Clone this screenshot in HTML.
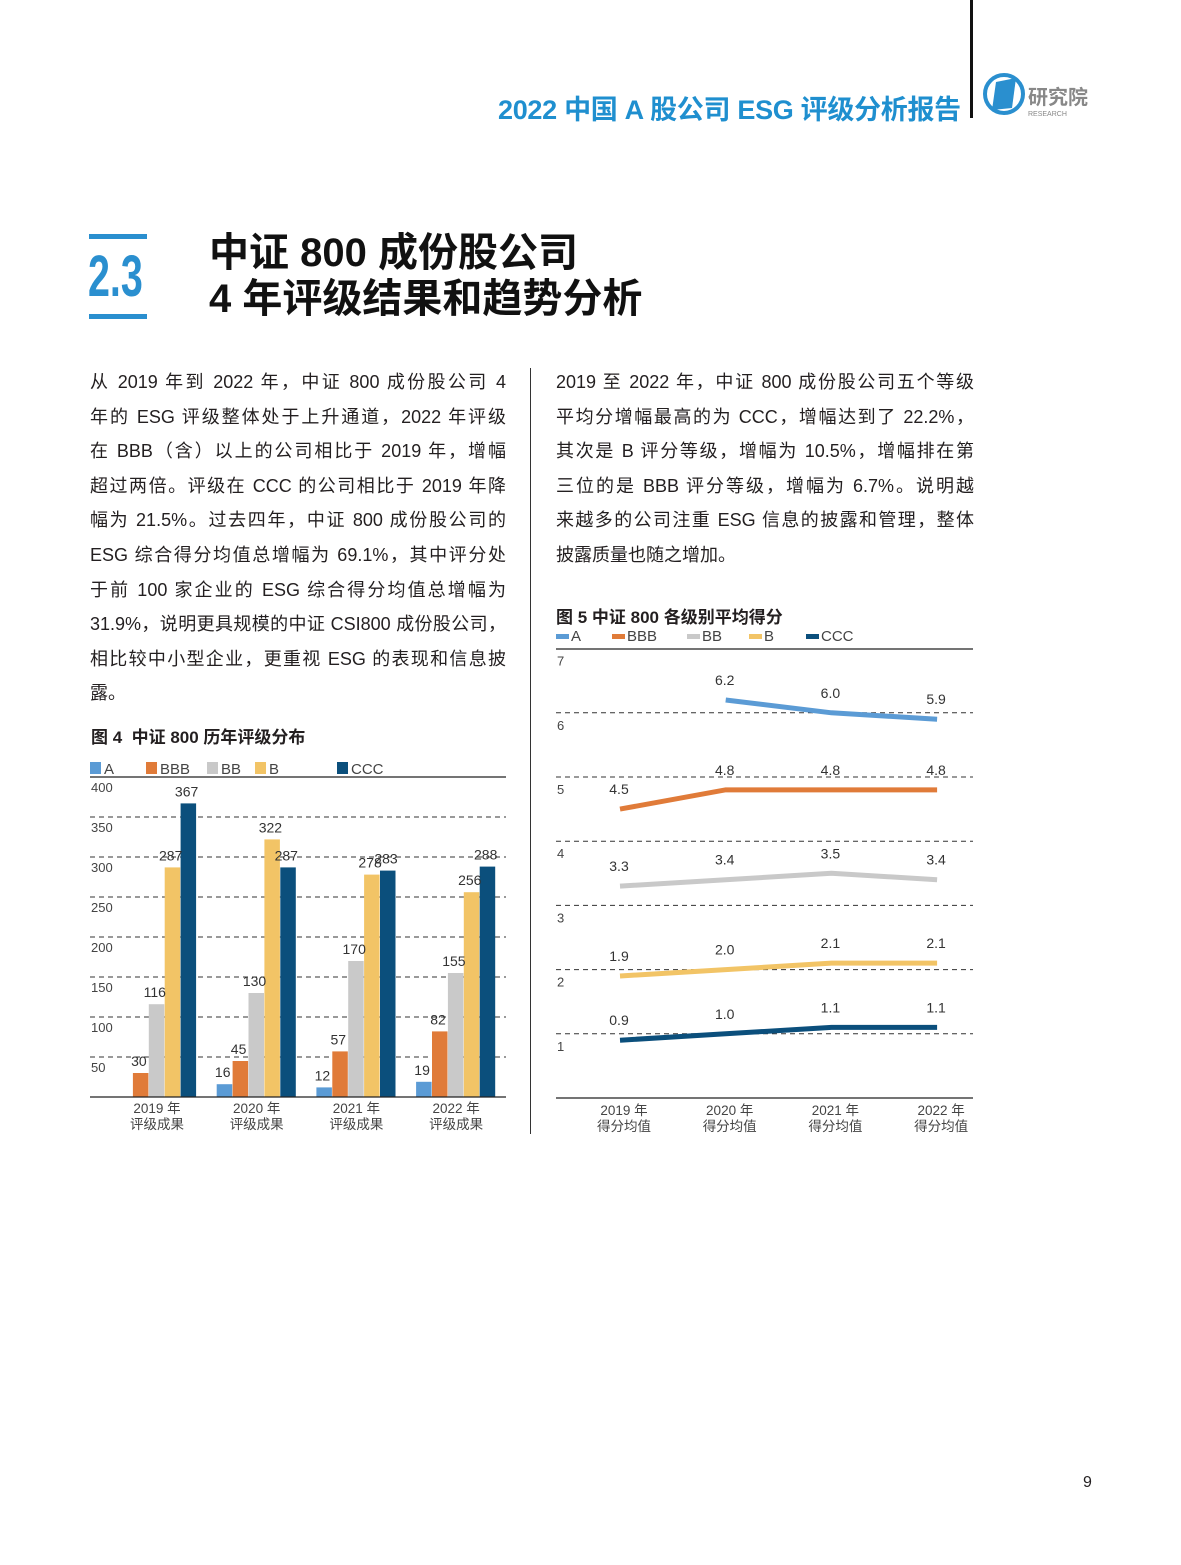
<!DOCTYPE html>
<html><head><meta charset="utf-8">
<style>
body{margin:0;background:#fff;}
#page{position:relative;width:1181px;height:1565px;overflow:hidden;background:#fff;font-family:"Liberation Sans","Noto Sans CJK SC",sans-serif;color:#231f20;}
.abs{position:absolute;}
.para{font-size:18px;line-height:34.6px;}
.para div{text-align:justify;text-align-last:justify;height:34.6px;white-space:nowrap;}
.para div.last{text-align-last:left;}
</style></head><body>
<div id="page">
<div class="abs" style="left:970px;top:0;width:3px;height:118px;background:#111;"></div>
<div class="abs" style="left:498px;top:88px;font-size:27px;font-weight:bold;color:#1f8fcf;white-space:nowrap;letter-spacing:-0.3px;">2022 中国 A 股公司 ESG 评级分析报告</div>
<svg class="abs" style="left:982px;top:70px" width="115" height="50">
<circle cx="22" cy="24" r="19" fill="none" stroke="#2a8fcf" stroke-width="4"/>
<path d="M14 12 L34 8 L30 38 L10 40 Z" fill="#2a8fcf"/>
<text x="46" y="34" font-size="20" font-weight="bold" fill="#888" font-family="Noto Sans CJK SC">研究院</text>
<text x="46" y="46" font-size="7" fill="#888" font-family="Liberation Sans">RESEARCH</text>
</svg>

<div class="abs" style="left:89px;top:234px;width:58px;height:5px;background:#2a8fcf;"></div>
<div class="abs" style="left:88px;top:244px;font-size:58px;font-weight:bold;color:#2a8fcf;font-family:'Liberation Sans Narrow','Liberation Sans',sans-serif;transform:scaleX(0.68);transform-origin:left;line-height:66px;">2.3</div>
<div class="abs" style="left:89px;top:314px;width:58px;height:5px;background:#2a8fcf;"></div>
<div class="abs" style="left:209px;top:230px;font-size:40px;font-weight:bold;line-height:46px;color:#111;">中证 800 成份股公司<br>4 年评级结果和趋势分析</div>

<div class="abs para" style="left:90px;top:365px;width:416px;">
<div>从 2019 年到 2022 年，中证 800 成份股公司 4</div>
<div>年的 ESG 评级整体处于上升通道，2022 年评级</div>
<div>在 BBB（含）以上的公司相比于 2019 年，增幅</div>
<div>超过两倍。评级在 CCC 的公司相比于 2019 年降</div>
<div>幅为 21.5%。过去四年，中证 800 成份股公司的</div>
<div>ESG 综合得分均值总增幅为 69.1%，其中评分处</div>
<div>于前 100 家企业的 ESG 综合得分均值总增幅为</div>
<div>31.9%，说明更具规模的中证 CSI800 成份股公司，</div>
<div>相比较中小型企业，更重视 ESG 的表现和信息披</div>
<div class="last">露。</div>
</div>
<div class="abs para" style="left:556px;top:365px;width:418px;">
<div>2019 至 2022 年，中证 800 成份股公司五个等级</div>
<div>平均分增幅最高的为 CCC，增幅达到了 22.2%，</div>
<div>其次是 B 评分等级，增幅为 10.5%，增幅排在第</div>
<div>三位的是 BBB 评分等级，增幅为 6.7%。说明越</div>
<div>来越多的公司注重 ESG 信息的披露和管理，整体</div>
<div class="last">披露质量也随之增加。</div>
</div>
<div class="abs" style="left:530px;top:368px;width:1px;height:766px;background:#333;"></div>

<div class="abs" style="left:91px;top:723px;font-size:17px;font-weight:bold;">图 4&nbsp; 中证 800 历年评级分布</div>
<div class="abs" style="left:556px;top:603px;font-size:17px;font-weight:bold;">图 5 中证 800 各级别平均得分</div>
<div class="abs" style="left:1083px;top:1474px;font-size:16px;">9</div>

<svg id="charts" class="abs" style="left:0;top:0" width="1181" height="1565"></svg>
</div>
<script>
const colors=["#5b9bd5","#e07b39","#c9c9c9","#f2c466","#0b4f7c"];
const seriesNames=["A","BBB","BB","B","CCC"];
const barCategories=["2019 年","2020 年","2021 年","2022 年"];
const barA=[0,16,12,19];
const barBBB=[30,45,57,82];
const barBB=[116,130,170,155];
const barB=[287,322,278,256];
const barCCC=[367,287,283,288];
const barTicks=[50,100,150,200,250,300,350,400];
const lineCategories=["2019 年","2020 年","2021 年","2022 年"];
const lineA=[null,6.2,6.0,5.9];
const lineBBB=[4.5,4.8,4.8,4.8];
const lineBB=[3.3,3.4,3.5,3.4];
const lineB=[1.9,2.0,2.1,2.1];
const lineCCC=[0.9,1.0,1.1,1.1];
const lineTicks=[1,2,3,4,5,6,7];

const svg=document.getElementById('charts');
const NS="http://www.w3.org/2000/svg";
function mk(tag,attrs,parent){const e=document.createElementNS(NS,tag);for(const k in attrs)e.setAttribute(k,attrs[k]);(parent||svg).appendChild(e);return e;}
function txt(x,y,s,attrs,parent){const e=mk('text',Object.assign({x:x,y:y,'font-size':14,fill:'#333','font-family':'Liberation Sans, Noto Sans CJK SC, sans-serif'},attrs||{}),parent);e.textContent=s;return e;}

// ---- Bar chart ----
const g1=mk('g',{});


const by=v=>1097-v*0.8;
const bx0=90,bx1=506;
function legend(x0,y,gap,parent,sq){
  seriesNames.forEach((n,i)=>{
    const lg=mk('g',{},parent);
    
    
    const x=x0+gap[i];
    if(sq) mk('rect',{x:x,y:y-11,width:11,height:12,fill:colors[i]},lg);
    else mk('rect',{x:x,y:y-6,width:13,height:5,fill:colors[i]},lg);
    txt(x+(sq?14:15),y+1,n,{'font-size':15,fill:'#444'},lg);
  });
}
legend(90,773,[0,56,117,165,247],g1,true);
mk('line',{x1:bx0,x2:bx1,y1:777,y2:777,stroke:'#222','stroke-width':1.2},g1);
barTicks.forEach(t=>{
  if(t<400) mk('line',{x1:bx0,x2:bx1,y1:by(t),y2:by(t),stroke:'#333','stroke-width':1,'stroke-dasharray':'5,4'},g1);
  txt(91,by(t)+15,String(t),{'font-size':13,fill:'#444'},g1);
});
const barSeries=[barA,barBBB,barBB,barB,barCCC];
const labels=[];
barCategories.forEach((c,gi)=>{
  const gx=117+gi*99.7;
  barSeries.forEach((s,si)=>{
    const v=s[gi]; if(!v) return;
    const x=gx+si*15.9;
    const r=mk('rect',{x:x,y:by(v),width:15.5,height:v*0.8,fill:colors[si]},g1);
    
    
    labels.push([x+6,by(v)-7,String(v)]);
  });
  txt(gx+40,1113,c,{'font-size':13.5,'text-anchor':'middle',fill:'#444'},g1);
  txt(gx+40,1129,'评级成果',{'font-size':13.5,'text-anchor':'middle',fill:'#444'},g1);
});
labels.forEach(l=>txt(l[0],l[1],l[2],{'font-size':14,'text-anchor':'middle',fill:'#333'},g1));
mk('line',{x1:bx0,x2:bx1,y1:1097,y2:1097,stroke:'#222','stroke-width':1.2},g1);

// ---- Line chart ----
const g2=mk('g',{});


const ly=v=>1098-v*64.2;
const lx=i=>620+i*105.7;
const lx0=556,lx1=973;
legend(556,640,[0,56,131,193,250],g2,false);
mk('line',{x1:lx0,x2:lx1,y1:649,y2:649,stroke:'#222','stroke-width':1.2},g2);
lineTicks.forEach(t=>{
  if(t<7) mk('line',{x1:lx0,x2:lx1,y1:ly(t),y2:ly(t),stroke:'#333','stroke-width':1,'stroke-dasharray':'5,4'},g2);
  txt(557,ly(t)+17,String(t),{'font-size':13,fill:'#444'},g2);
});
const lineSeries=[lineA,lineBBB,lineBB,lineB,lineCCC];
lineSeries.forEach((s,si)=>{
  let d='';
  s.forEach((v,i)=>{ if(v===null) return; d+=(d?'L':'M')+lx(i)+' '+ly(v)+' ';});
  const p=mk('path',{d:d,fill:'none',stroke:colors[si],'stroke-width':5},g2);
  
  
  s.forEach((v,i)=>{ if(v===null) return; txt(lx(i)-1,ly(v)-15,v.toFixed(1),{'font-size':14,'text-anchor':'middle',fill:'#333'},g2);});
});
mk('line',{x1:lx0,x2:lx1,y1:1098,y2:1098,stroke:'#222','stroke-width':1.2},g2);
lineCategories.forEach((c,i)=>{
  txt(lx(i)+4,1115,c,{'font-size':13.5,'text-anchor':'middle',fill:'#444'},g2);
  txt(lx(i)+4,1131,'得分均值',{'font-size':13.5,'text-anchor':'middle',fill:'#444'},g2);
});
</script>
</body></html>
